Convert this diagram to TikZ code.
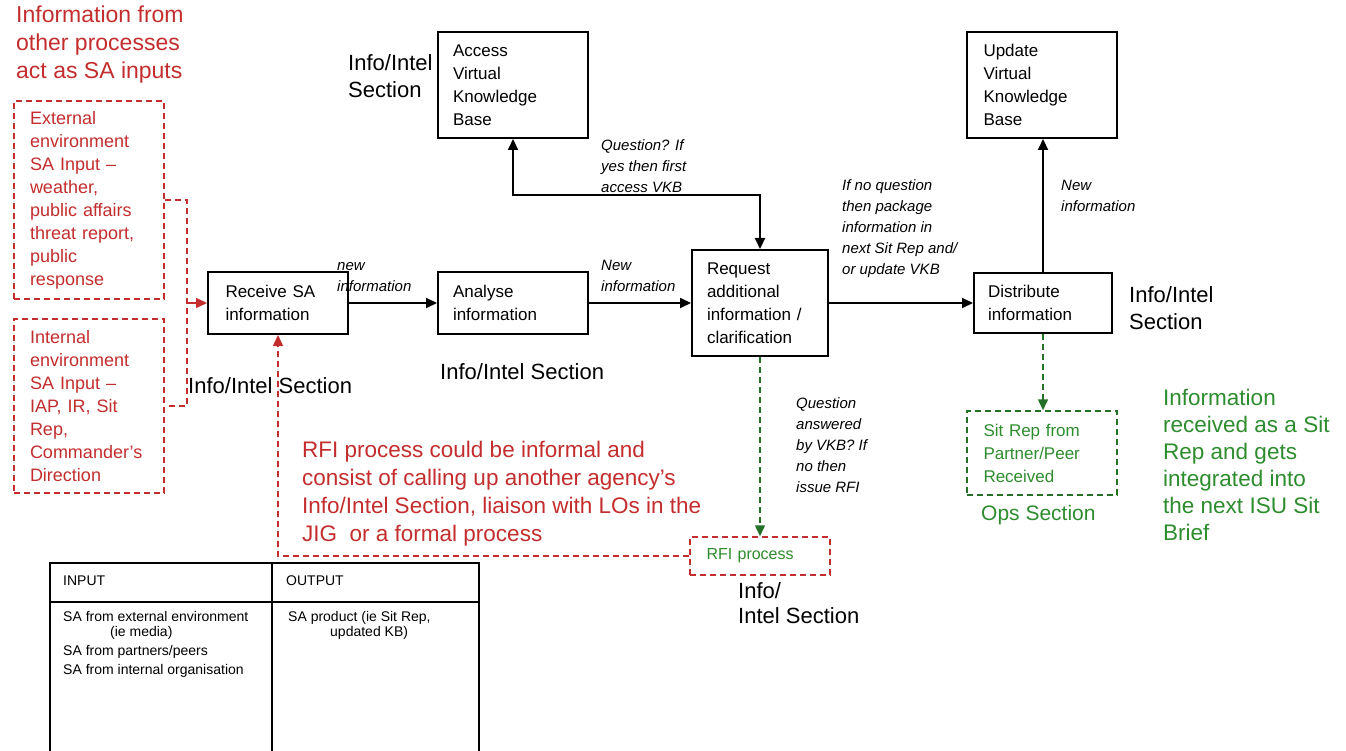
\documentclass[tikz,border=0pt]{standalone}
\usepackage{fontspec}
\setmainfont{Liberation Sans}
\usetikzlibrary{arrows.meta}
\definecolor{sared}{RGB}{195,45,45}
\definecolor{sagreen}{RGB}{45,140,45}

\begin{document}
\begin{tikzpicture}[x=1pt,y=-1pt,
  procbox/.style={draw, line width=2pt, align=left, inner xsep=0pt, inner ysep=0pt,
    font=\fontsize{17}{23}\selectfont},
  redbox/.style={draw=sared, text=sared, line width=1.5pt, dash pattern=on 6pt off 4pt,
    align=left, inner xsep=0pt, inner ysep=0pt, font=\fontsize{18}{23}\selectfont},
  greenbox/.style={draw=sared, text=sagreen, line width=1.5pt, dash pattern=on 6pt off 4pt,
    align=left, inner xsep=0pt, inner ysep=0pt, font=\fontsize{17}{23}\selectfont},
  sitbox/.style={greenbox, draw=sagreen!80!black},
  note/.style={anchor=west, align=left, inner sep=0pt, font=\fontsize{15}{21}\selectfont\itshape},
  section/.style={anchor=west, align=left, inner sep=0pt, font=\fontsize{22}{27}\selectfont},
  remark/.style={anchor=west, align=left, inner sep=0pt, font=\fontsize{22.5}{28}\selectfont},
  cell/.style={anchor=west, align=left, inner sep=0pt, font=\fontsize{14}{19}\selectfont},
  conn/.style={line width=2pt, -{Triangle[length=11pt,width=10pt]}},
  rconn/.style={draw=sared, line width=1.5pt, dash pattern=on 6pt off 4pt},
  gconn/.style={draw=sagreen!80!black, line width=1.5pt, dash pattern=on 6pt off 4pt,
    -{Triangle[length=11pt,width=10pt]}},
]
\useasboundingbox (0,0) rectangle (1346,751);

% process boxes
\node[procbox, minimum width=140, minimum height=62, text width=105] (recv) at (278,303) {Receive SA\\information};
\node[procbox, minimum width=150, minimum height=62, text width=120] (ana) at (513,303) {Analyse\\information};
\node[procbox, minimum width=150, minimum height=106, text width=120] (acc) at (513,85) {Access\\Virtual\\Knowledge\\Base};
\node[procbox, minimum width=136, minimum height=106, text width=106] (req) at (760,303) {Request\\additional\\information /\\clarification};
\node[procbox, minimum width=138, minimum height=60, text width=110] (dist) at (1043,303) {Distribute\\information};
\node[procbox, minimum width=150, minimum height=106, text width=117] (upd) at (1042,85) {Update\\Virtual\\Knowledge\\Base};

% input boxes
\node[anchor=west, align=left, inner sep=0pt, text=sared, font=\fontsize{23}{28}\selectfont] (title) at (16,45)
  {Information from\\other processes\\act as SA inputs};
\node[redbox, minimum width=150, minimum height=198, text width=118] (ext) at (89,200)
  {External\\environment\\SA Input --\\weather,\\public affairs\\threat report,\\public\\response};
\node[redbox, minimum width=150, minimum height=174, text width=118] (int) at (89,406)
  {Internal\\environment\\SA Input --\\IAP, IR, Sit\\Rep,\\Commander's\\Direction};

% RFI and partner boxes
\node[greenbox, minimum width=140, minimum height=38, text width=107, font=\fontsize{16}{20}\selectfont] (rfi) at (760,556) {RFI process};
\node[sitbox, minimum width=150, minimum height=84, text width=117] (sit) at (1042,453) {Sit Rep from\\Partner/Peer\\Received};

% connectors
\draw[conn] (recv.east) -- (ana.west);
\draw[conn] (ana.east) -- (req.west);
\draw[conn] (req.east) -- (dist.west);
\draw[conn] (dist.north) -- (dist.north |- upd.south);
\draw[line width=2pt, {Triangle[length=11pt,width=10pt]}-{Triangle[length=11pt,width=10pt]}]
  (acc.south) -- ++(0,56) -| (req.north);
\draw[gconn] (req.south) -- (rfi.north);
\draw[gconn] (dist.south) -- (dist.south |- sit.north);
\draw[rconn] (ext.east) -- ++(22,0) |- (int.east);
\coordinate (brk) at (186,303);
\draw[draw=sared, line width=1.5pt, -{Triangle[length=11pt,width=10pt]}] (brk) -- (recv.west);
\draw[rconn, -{Triangle[length=11pt,width=10pt]}] (rfi.west) -| (recv.south);

% connector labels
\node[note] (lnew1) at (337,277.5) {new\\information};
\node[note] (lnew2) at (601,276) {New\\information};
\node[note] (lques) at (601,166) {Question? If\\yes then first\\access VKB};
\node[note] (lpack) at (842,229) {If no question\\then package\\information in\\next Sit Rep and/\\or update VKB};
\node[note] (lnew3) at (1061,196) {New\\information};
\node[note] (lans) at (796,445) {Question\\answered\\by VKB? If\\no then\\issue RFI};

% section labels
\node[section] (s1) at (348,76.5) {Info/Intel\\Section};
\node[section] (s2) at (188,386) {Info/Intel Section};
\node[section] (s3) at (440,372) {Info/Intel Section};
\node[section] (s4) at (1129,308) {Info/Intel\\Section};
\node[section, font=\fontsize{22}{25}\selectfont] (s5) at (738,603) {Info/\\Intel Section};
\node[section, text=sagreen, font=\fontsize{21}{25}\selectfont] (s6) at (981,515) {Ops Section};

% remarks
\node[remark, text=sared] (rfinote) at (302,494)
  {RFI process could be informal and\\consist of calling up another agency's\\Info/Intel Section, liaison with LOs in the\\JIG\ \ or a formal process};
\node[remark, text=sagreen, font=\fontsize{22.5}{27}\selectfont] (sitnote) at (1163,465)
  {Information\\received as a Sit\\Rep and gets\\integrated into\\the next ISU Sit\\Brief};

% input / output table
\draw[line width=1.5pt] (50,752) -- (50,563) -- (479,563) -- (479,752);
\draw[line width=1.5pt] (272,563) -- (272,752);
\draw[line width=1.5pt] (50,602) -- (479,602);
\node[cell] (hin) at (63,581) {INPUT};
\node[cell] (hout) at (286,581) {OUTPUT};
\node[cell, anchor=north west] (cin) at (63,611)
  {SA from external environment\\[-4pt]\hspace*{47pt}(ie media)\\SA from partners/peers\\SA from internal organisation};
\node[cell, anchor=north west] (cout) at (288,611)
  {SA product (ie Sit Rep,\\[-4pt]\hspace*{42pt}updated KB)};
\end{tikzpicture}
\end{document}
